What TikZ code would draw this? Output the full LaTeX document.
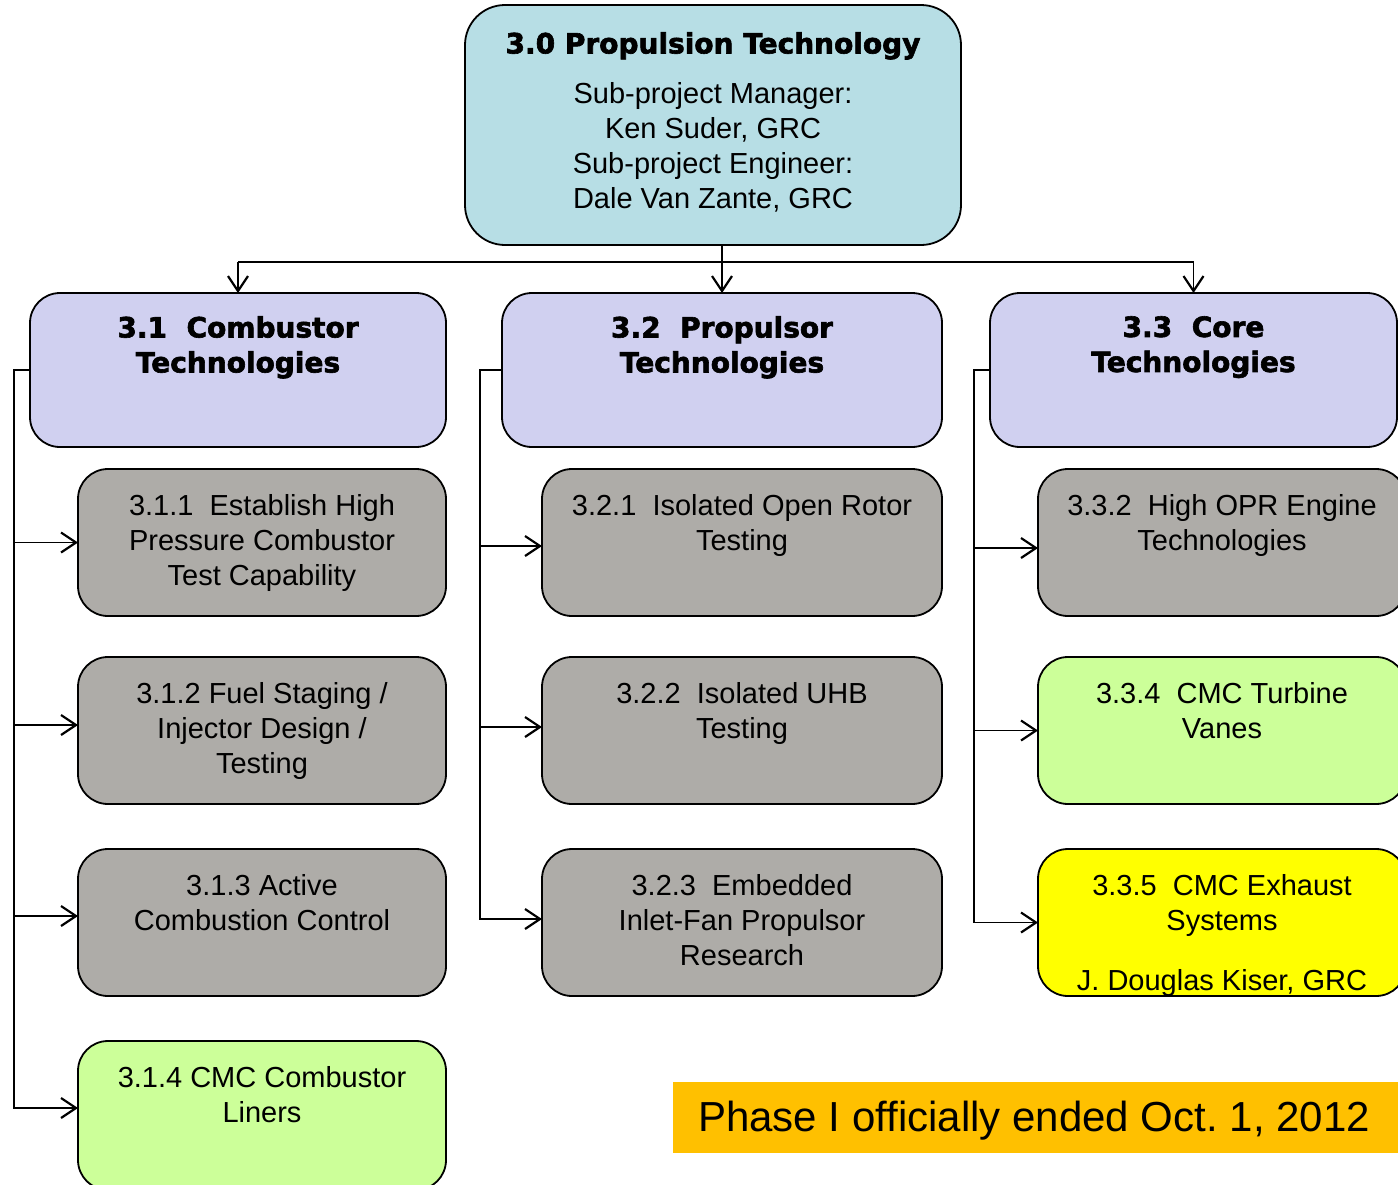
\documentclass[tikz,border=0pt]{standalone}
\usepackage{fontspec}
\setmainfont{Liberation Sans}
\newfontfamily\hdfont{DejaVu Sans}[BoldFeatures={FakeBold=2.2}]
\usetikzlibrary{arrows.meta}
\frenchspacing
\definecolor{topc}{RGB}{183,222,229}
\definecolor{hdc}{RGB}{208,208,240}
\definecolor{grayc}{RGB}{174,172,168}
\definecolor{greenc}{RGB}{204,255,153}
\definecolor{yelc}{RGB}{255,255,0}
\definecolor{orngc}{RGB}{255,192,0}
\tikzset{
  box/.style={draw=black, line width=1.8pt, rounded corners=30pt, inner sep=0pt, outer sep=0pt},
  hdtxt/.style={font=\hdfont\bfseries\fontsize{28}{35}\selectfont, align=center, inner sep=0pt, anchor=north},
  bodytxt/.style={font=\fontsize{29}{35}\selectfont, align=center, inner sep=0pt, anchor=north},
  conn/.style={line width=1.8pt},
  arr/.style={line width=1.8pt, -{Straight Barb[length=15pt,width=20pt,line width=2.2pt]}},
}
\begin{document}
\begin{tikzpicture}[x=1pt,y=-1pt]
\useasboundingbox (0,0) rectangle (1398,1184);
\clip (0,0) rectangle (1398,1184);
\fill[white] (0,0) rectangle (1398,1184);

% top box
\node[box, fill=topc, rounded corners=40pt, minimum width=496pt, minimum height=240pt] (top) at (713,125) {};
\node[hdtxt] (ttop) at (713,32) {3.0 Propulsion Technology};
\node[bodytxt] (btop) at (713,82) {Sub-project Manager:\\Ken Suder, GRC\\Sub-project Engineer:\\Dale Van Zante, GRC};

% headers
\node[box, fill=hdc, minimum width=416pt, minimum height=154pt] (h31) at (238,370) {};
\node[hdtxt] (t31) at (238,316) {3.1\ \ Combustor\\Technologies};
\node[box, fill=hdc, minimum width=440pt, minimum height=154pt] (h32) at (722,370) {};
\node[hdtxt] (t32) at (722,316) {3.2\ \ Propulsor\\Technologies};
\node[box, fill=hdc, minimum width=407pt, minimum height=154pt] (h33) at (1193.5,370) {};
\node[hdtxt] (t33) at (1193.5,316) {3.3\ \ Core\\Technologies};

% column 1
\node[box, fill=grayc, minimum width=368pt, minimum height=147pt] (c311) at (262,542.5) {};
\node[bodytxt] (t311) at (262,494) {3.1.1\ \ Establish High\\Pressure Combustor\\Test Capability};
\node[box, fill=grayc, minimum width=368pt, minimum height=147pt] (c312) at (262,730.5) {};
\node[bodytxt] (t312) at (262,682) {3.1.2 Fuel Staging /\\Injector Design /\\Testing};
\node[box, fill=grayc, minimum width=368pt, minimum height=147pt] (c313) at (262,922.5) {};
\node[bodytxt] (t313) at (262,874) {3.1.3 Active\\Combustion Control};
\node[box, fill=greenc, minimum width=368pt, minimum height=149pt] (c314) at (262,1115.5) {};
\node[bodytxt] (t314) at (262,1066) {3.1.4 CMC Combustor\\Liners};

% column 2
\node[box, fill=grayc, minimum width=400pt, minimum height=147pt] (c321) at (742,542.5) {};
\node[bodytxt] (t321) at (742,494) {3.2.1\ \ Isolated Open Rotor\\Testing};
\node[box, fill=grayc, minimum width=400pt, minimum height=147pt] (c322) at (742,730.5) {};
\node[bodytxt] (t322) at (742,682) {3.2.2\ \ Isolated UHB\\Testing};
\node[box, fill=grayc, minimum width=400pt, minimum height=147pt] (c323) at (742,922.5) {};
\node[bodytxt] (t323) at (742,874) {3.2.3\ \ Embedded\\Inlet-Fan Propulsor\\Research};

% column 3
\node[box, fill=grayc, minimum width=368pt, minimum height=147pt] (c332) at (1222,542.5) {};
\node[bodytxt] (t332) at (1222,494) {3.3.2\ \ High OPR Engine\\Technologies};
\node[box, fill=greenc, minimum width=368pt, minimum height=147pt] (c334) at (1222,730.5) {};
\node[bodytxt] (t334) at (1222,682) {3.3.4\ \ CMC Turbine\\Vanes};
\node[box, fill=yelc, minimum width=368pt, minimum height=147pt] (c335) at (1222,922.5) {};
\node[bodytxt] (t335) at (1222,874) {3.3.5\ \ CMC Exhaust\\Systems\\[25pt]J. Douglas Kiser, GRC};

% banner
\node[fill=orngc, minimum width=725pt, minimum height=71pt, inner sep=0pt] (banner) at (1035.5,1117.5) {};
\node[inner sep=0pt, font=\fontsize{42}{50}\selectfont] (bannertxt) at (1034,1121) {Phase I officially ended Oct. 1, 2012};

% top connectors
\coordinate (busL) at (238,262);
\coordinate (busR) at (1193.5,262);
\draw[conn] (busL) -- (busR);
\draw[conn] (top.south -| h32.north) -- (h32.north |- busL);
\draw[arr] (busL) -- (h31.north);
\draw[arr] (busR) -- (h33.north);
\draw[arr] (h32.north |- busL) -- (h32.north);

% column 1 spine
\coordinate (s1) at (14,370);
\draw[arr] (h31.west) -- (s1) |- ([yshift=7.5pt]c314.west);
\draw[arr] (c311.west -| s1) -- (c311.west);
\draw[arr] ([yshift=5.5pt]c312.west -| s1) -- ([yshift=5.5pt]c312.west);
\draw[arr] ([yshift=6.5pt]c313.west -| s1) -- ([yshift=6.5pt]c313.west);

% column 2 spine
\coordinate (s2) at (480,370);
\draw[arr] (h32.west) -- (s2) |- ([yshift=3.5pt]c323.west);
\draw[arr] ([yshift=-3.5pt]c321.west -| s2) -- ([yshift=-3.5pt]c321.west);
\draw[arr] ([yshift=3.5pt]c322.west -| s2) -- ([yshift=3.5pt]c322.west);

% column 3 spine
\coordinate (s3) at (974,370);
\draw[arr] (h33.west) -- (s3) |- (c335.west);
\draw[arr] ([yshift=-5.5pt]c332.west -| s3) -- ([yshift=-5.5pt]c332.west);
\draw[arr] (c334.west -| s3) -- (c334.west);
\end{tikzpicture}
\end{document}
